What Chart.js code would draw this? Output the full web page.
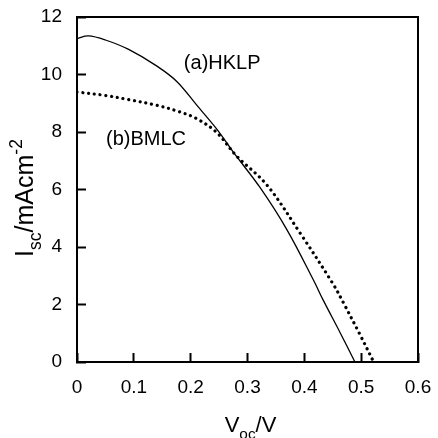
<!DOCTYPE html>
<html>
<head>
<meta charset="utf-8">
<script src="https://cdn.jsdelivr.net/npm/chart.js@4"></script>
<style>
  html, body { margin: 0; padding: 0; background: #fff; }
  #wrap { width: 438px; height: 438px; }
</style>
</head>
<body>
<div id="wrap"><canvas id="myChart"></canvas></div>
<script>
// curve (a) HKLP, solid
const voltsA = [0, 0.02, 0.05, 0.09, 0.14, 0.176, 0.21, 0.246, 0.275, 0.322, 0.37, 0.416, 0.433, 0.463, 0.489];
const currentA = [11.25, 11.34, 11.2, 10.88, 10.3, 9.75, 8.95, 8.1, 7.3, 6.07, 4.58, 2.85, 2.16, 1.02, 0];
// curve (b) BMLC, dotted
const voltsB = [0, 0.05, 0.09, 0.14, 0.176, 0.21, 0.246, 0.28, 0.334, 0.393, 0.451, 0.469, 0.498, 0.522];
const currentB = [9.39, 9.27, 9.13, 8.93, 8.73, 8.47, 7.98, 7.18, 6.16, 4.47, 2.7, 2.05, 0.95, 0];

const curveLabels = ['(a)HKLP', '(b)BMLC'];
const labelAt = [[0.188, 10.2], [0.051, 7.55]];

const FONT = "'Liberation Sans', Arial, sans-serif";

function toPoints(xs, ys) {
    return xs.map((x, i) => ({ x: x, y: ys[i] }));
}

function drawRich(ctx, parts, size) {
    let x = 0;
    parts.forEach(p => {
        const s = p.small ? size * 0.7 : size;
        ctx.font = s + 'px ' + FONT;
        ctx.fillText(p.t, x, p.dy * size);
        x += ctx.measureText(p.t).width;
    });
}
function richWidth(ctx, parts, size) {
    let w = 0;
    parts.forEach(p => {
        ctx.font = (p.small ? size * 0.7 : size) + 'px ' + FONT;
        w += ctx.measureText(p.t).width;
    });
    return w;
}

function noPad(s) {
    s.paddingTop = 0; s.paddingBottom = 0; s.paddingLeft = 0; s.paddingRight = 0;
}

const extras = {
    id: 'extras',
    afterDraw(chart) {
        const ctx = chart.ctx;
        const a = chart.chartArea;
        const xs = chart.scales.x, ys = chart.scales.y;
        ctx.save();
        ctx.strokeStyle = '#000';
        ctx.lineWidth = 2;
        ctx.strokeRect(a.left, a.top, a.right - a.left, a.bottom - a.top);

        ctx.fillStyle = '#000';
        ctx.textBaseline = 'alphabetic';
        ctx.textAlign = 'left';
        ctx.font = '20px ' + FONT;
        curveLabels.forEach((t, i) => {
            ctx.fillText(t, xs.getPixelForValue(labelAt[i][0]), ys.getPixelForValue(labelAt[i][1]));
        });

        // V_oc/V
        const xt = [{ t: 'V', dy: 0 }, { t: 'oc', dy: 0.3, small: true }, { t: '/V', dy: 0 }];
        const xw = richWidth(ctx, xt, 22);
        ctx.save();
        ctx.translate((a.left + a.right) / 2 - xw / 2 + 3, 432);
        drawRich(ctx, xt, 22);
        ctx.restore();

        // I_sc/mAcm^-2
        const yt = [{ t: 'I', dy: 0 }, { t: 'sc', dy: 0.3, small: true }, { t: '/mAcm', dy: 0 }, { t: '-2', dy: -0.45, small: true }];
        const yw = richWidth(ctx, yt, 25);
        ctx.save();
        ctx.translate(33, 198 + yw / 2);
        ctx.rotate(-Math.PI / 2);
        drawRich(ctx, yt, 25);
        ctx.restore();

        ctx.restore();
    }
};

const ctx = document.getElementById('myChart');

const myChart = new Chart(ctx, {
    type: 'line',
    data: {
        datasets: [{
            label: curveLabels[0],
            data: toPoints(voltsA, currentA),
            borderColor: '#000',
            borderWidth: 1.3,
            pointRadius: 0,
            tension: 0.35
        }, {
            label: curveLabels[1],
            data: toPoints(voltsB, currentB),
            borderColor: '#000',
            borderWidth: 3.2,
            borderDash: [0.01, 5.8],
            borderCapStyle: 'round',
            pointRadius: 0,
            tension: 0.35
        }]
    },
    options: {
        responsive: true,
        maintainAspectRatio: false,
        animation: false,
        layout: { padding: { top: 17, right: 20, left: 0, bottom: 0 } },
        scales: {
            x: {
                type: 'linear',
                min: 0,
                max: 0.6,
                afterFit: (s) => { s.height = 76; noPad(s); },
                ticks: {
                    stepSize: 0.1,
                    color: '#000',
                    padding: 23,
                    minRotation: 0,
                    maxRotation: 0,
                    font: { size: 19, family: FONT }
                },
                grid: { drawOnChartArea: false, tickLength: -9, tickWidth: 2, tickColor: '#000', color: '#000' },
                border: { color: '#000', width: 2 }
            },
            y: {
                min: 0,
                max: 12,
                afterFit: (s) => { s.width = 77; noPad(s); },
                ticks: {
                    stepSize: 2,
                    color: '#000',
                    padding: 24,
                    minRotation: 0,
                    maxRotation: 0,
                    font: { size: 19, family: FONT }
                },
                grid: { drawOnChartArea: false, tickLength: -9, tickWidth: 2, tickColor: '#000', color: '#000' },
                border: { color: '#000', width: 2 }
            }
        },
        plugins: {
            legend: { display: false },
            tooltip: { enabled: false }
        }
    },
    plugins: [extras]
});
</script>
</body>
</html>
